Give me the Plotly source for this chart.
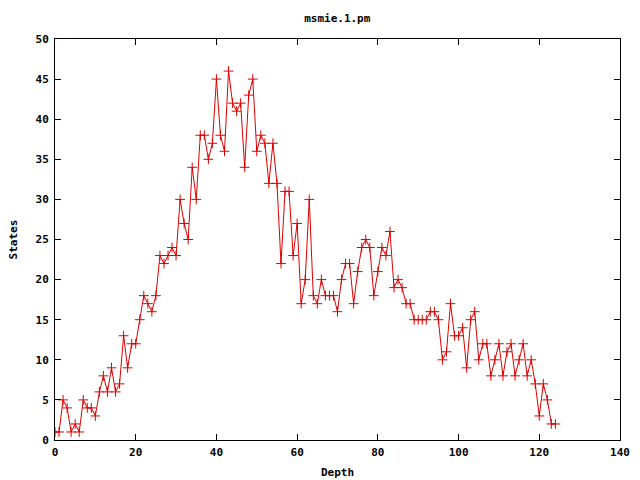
import plotly.graph_objects as go

depth = list(range(125))
states = [
    1, 1, 5, 4, 1, 2, 1, 5, 4, 4, 3, 6, 8, 6, 9, 6, 7, 13, 9, 12, 12,
    15, 18, 17, 16, 18, 23, 22, 23, 24, 23, 30, 27, 25, 34, 30, 38, 38,
    35, 37, 45, 38, 36, 46, 42, 41, 42, 34, 43, 45, 36, 38, 37, 32, 37, 32, 22, 31, 31, 23, 27, 17, 20, 30,
    18, 17, 20, 18, 18, 18, 16, 20, 22, 22, 17, 21, 24, 25, 24, 18, 21, 24, 23, 26, 19,
    20, 19, 17, 17, 15, 15, 15, 15, 16, 16, 15, 10, 11, 17, 13, 13, 14, 9, 15, 16, 10,
    12, 12, 8, 10, 12, 8, 11, 12, 8, 10, 12, 8, 10, 7, 3, 7, 5, 2, 2,
]
title = "msmie.1.pm"
x_title = "Depth"
y_title = "States"

red = "#e00000"
font = dict(family="DejaVu Sans Mono", size=11, color="black", weight="bold")

fig = go.Figure()
fig.add_trace(go.Scatter(
    x=depth, y=states, mode="lines+markers",
    line=dict(color=red, width=1),
    marker=dict(symbol="cross-thin", size=7, line=dict(color=red, width=1)),
    showlegend=False,
))

axis_common = dict(
    showgrid=False, zeroline=False, showline=True, linecolor="black", linewidth=1,
    mirror="allticks", ticks="inside", ticklen=6, tickcolor="black", tickwidth=1,
    tickfont=font, automargin=False,
)
fig.update_layout(
    width=632, height=472,
    margin=dict(l=47, r=20, t=31, b=40, autoexpand=False),
    paper_bgcolor="white", plot_bgcolor="white",
    title=dict(text=title, x=0.521, xanchor="center", y=0.979, yanchor="middle", font=font),
    xaxis=dict(range=[0, 140], dtick=20, tick0=0, ticklabelstandoff=2, **axis_common),
    yaxis=dict(range=[0, 50], dtick=5, tick0=0, ticklabelstandoff=3, **axis_common),
    annotations=[
        dict(text=x_title, xref="paper", yref="paper", x=0.5, y=-0.08,
             xanchor="center", yanchor="middle", showarrow=False, font=font),
        dict(text=y_title, xref="paper", yref="paper", x=-0.0726, y=0.5,
             xanchor="center", yanchor="middle", textangle=-90, showarrow=False, font=font),
    ],
)
fig.write_html("out.html")
